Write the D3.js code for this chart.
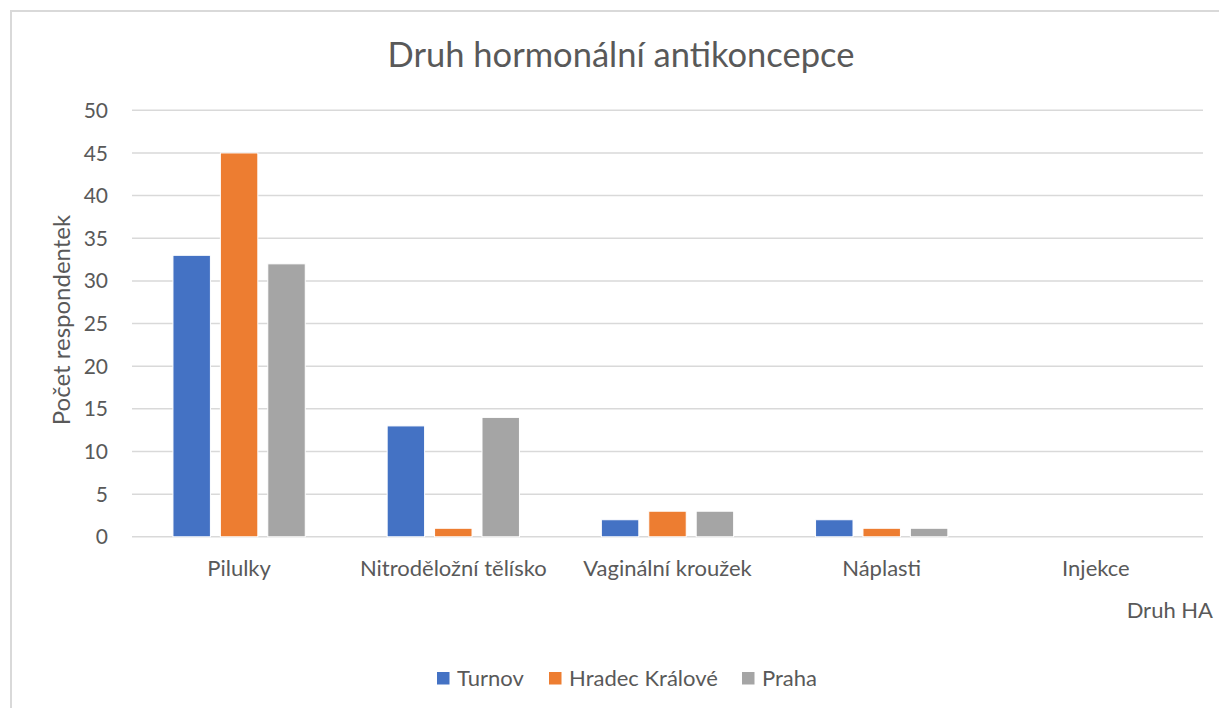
<!DOCTYPE html>
<html><head><meta charset="utf-8">
<script src="https://cdn.jsdelivr.net/npm/d3@7"></script>
<style>body{margin:0;background:#fff}svg{display:block}text{font-family:Lato,"Open Sans",sans-serif;fill:#595959}</style>
</head><body><svg id="c" width="1219" height="708"></svg>
<script>
const categories = ["Pilulky","Nitroděložní tělísko","Vaginální kroužek","Náplasti","Injekce"];
const seriesNames = ["Turnov","Hradec Králové","Praha"];
const turnov = [33,13,2,2,0];
const hradec = [45,1,3,1,0];
const praha = [32,14,3,1,0];
const colors = ["#4472C4","#ED7D31","#A5A5A5"];
const yTicks = [0,5,10,15,20,25,30,35,40,45,50];
const title = "Druh hormonální antikoncepce";
const xTitle = "Druh HA";
const yTitle = "Počet respondentek";

const seriesVals = [turnov, hradec, praha];
const svg = d3.select("#c");
const L = 132, R = 1203, T = 110.3, B = 536.8;

// chart border
svg.append("path").attr("d","M11,708V11H1219").attr("fill","none").attr("stroke","#d9d9d9").attr("stroke-width",2);

const x = d3.scaleBand().domain(categories).range([L,R]).padding(0);
const y = d3.scaleLinear().domain([0,50]).range([B,T]);
const groupW = 132.3;
const xs = d3.scaleBand().domain(seriesNames).range([0,groupW]).paddingInner(0.21).paddingOuter(0);

// gridlines
svg.append("g").selectAll("line").data(yTicks).join("line")
  .attr("x1",L).attr("x2",R).attr("y1",d=>y(d)).attr("y2",d=>y(d))
  .attr("stroke","#d9d9d9").attr("stroke-width",1.5);

// y tick labels
svg.append("g").selectAll("text").data(yTicks).join("text")
  .attr("x",108).attr("y",d=>y(d)).attr("dy","0.36em").attr("text-anchor","end")
  .style("font-size","21px").text(d=>d);

// bars
const g = svg.append("g");
seriesNames.forEach((s,si)=>{
  g.append("g").selectAll("rect").data(categories.map((c,i)=>({c,v:seriesVals[si][i]}))).join("rect")
    .attr("x",d=>x(d.c)+x.bandwidth()/2-groupW/2+xs(s))
    .attr("width",xs.bandwidth())
    .attr("y",d=>y(d.v)).attr("height",d=>y(0)-y(d.v))
    .attr("fill",colors[si]).attr("stroke","#fff").attr("stroke-width",d=>d.v>0?1:0);
});

// category labels
svg.append("g").selectAll("text").data(categories).join("text")
  .attr("x",d=>x(d)+x.bandwidth()/2).attr("y",576).attr("text-anchor","middle")
  .style("font-size","22px").text(d=>d);

// title
svg.append("text").attr("x",621).attr("y",67).attr("text-anchor","middle").style("font-size","34.5px").text(title);
// axis titles
svg.append("text").attr("x",1213).attr("y",618).attr("text-anchor","end").style("font-size","22px").text(xTitle);
svg.append("text").attr("transform","translate(70,320) rotate(-90)").attr("text-anchor","middle").style("font-size","24px").text(yTitle);

// legend
const legX = [437,549,742];
const lg = svg.append("g");
seriesNames.forEach((s,i)=>{
  lg.append("rect").attr("x",legX[i]).attr("y",672).attr("width",12.5).attr("height",12.5).attr("fill",colors[i]);
  lg.append("text").attr("x",legX[i]+20).attr("y",686).style("font-size","22px").text(s);
});
</script></body></html>
